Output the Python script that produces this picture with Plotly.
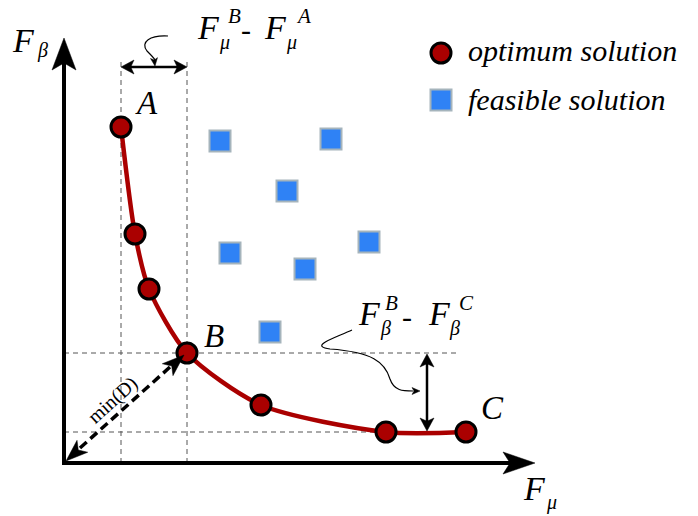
import plotly.graph_objects as go

# ---------------- data (F_mu, F_beta in chart units) ----------------
opt_fmu = [57, 71, 85, 123, 197, 322, 402]
opt_fbeta = [336, 229, 174, 110, 58, 31, 31]
feas_fmu = [156, 267, 223, 166, 305, 241, 206]
feas_fbeta = [322, 324, 272, 210, 221, 194, 131]
point_labels = ["A", "B", "C"]
legend_labels = ["optimum solution", "feasible solution"]

W, H = 698, 516
X0, Y0 = 64, 463  # pixel position of the origin


def d(px, py):
    return (px - X0, Y0 - py)


def fmt(px, py):
    x, y = d(px, py)
    return f"{x:.2f},{y:.2f}"


def poly_path(pts):
    return "M " + " L ".join(fmt(*p) for p in pts) + " Z"


def arrowhead(tip, frm, L, Wd, notch=0.25):
    tx, ty = tip
    fx, fy = frm
    dx, dy = tx - fx, ty - fy
    n = (dx * dx + dy * dy) ** 0.5
    ux, uy = dx / n, dy / n
    px_, py_ = -uy, ux
    bx, by = tx - ux * L, ty - uy * L
    nx, ny = tx - ux * L * (1 - notch), ty - uy * L * (1 - notch)
    pts = [(tx, ty), (bx + px_ * Wd, by + py_ * Wd), (nx, ny), (bx - px_ * Wd, by - py_ * Wd)]
    return dict(type="path", path=poly_path(pts), xref="x", yref="y",
                fillcolor="black", line=dict(color="black", width=0.5), layer="above")


def line_shape(p1, p2, color="black", width=2, dash="solid"):
    x1, y1 = d(*p1)
    x2, y2 = d(*p2)
    return dict(type="line", x0=x1, y0=y1, x1=x2, y1=y2, xref="x", yref="y",
                line=dict(color=color, width=width, dash=dash), layer="above")


shapes = []
GRID = dict(color="#555555", width=1, dash="5px,4px")

# dashed guide lines derived from A, B, C
A = (opt_fmu[0], opt_fbeta[0])
B = (opt_fmu[3], opt_fbeta[3])
C = (opt_fmu[-1], opt_fbeta[-1])
top_guides = 405
for gx in (A[0], B[0]):
    shapes.append(dict(type="line", x0=gx, x1=gx, y0=0, y1=top_guides, xref="x", yref="y",
                       line=GRID, layer="below"))
shapes.append(dict(type="line", x0=0, x1=393, y0=B[1], y1=B[1], xref="x", yref="y",
                   line=GRID, layer="below"))
shapes.append(dict(type="line", x0=0, x1=opt_fmu[-2], y0=C[1], y1=C[1], xref="x", yref="y",
                   line=GRID, layer="below"))

# axes
shapes.append(line_shape((64, 463), (64, 62), width=4))
shapes.append(line_shape((62, 463), (510, 463), width=4))
shapes.append(arrowhead((64, 38), (64, 463), 32, 12, 0.22))
shapes.append(arrowhead((535, 463), (64, 463), 32, 11, 0.22))

# horizontal double arrow (F_mu^B - F_mu^A)
shapes.append(line_shape((125, 67), (183, 67), width=2.5))
shapes.append(arrowhead((121, 67), (187, 67), 13, 7))
shapes.append(arrowhead((187, 67), (121, 67), 13, 7))

# vertical double arrow (F_beta^B - F_beta^C)
shapes.append(line_shape((427, 360), (427, 425), width=2.5))
shapes.append(arrowhead((427, 354), (427, 432), 13, 7))
shapes.append(arrowhead((427, 431), (427, 353), 13, 7))

# min(D) dashed double arrow
shapes.append(line_shape((80, 448), (170, 367), width=3.5, dash="9px,5px"))
shapes.append(arrowhead((66, 461), (184, 355), 22, 8))
shapes.append(arrowhead((184, 355), (66, 461), 22, 8))

# curly pointers
shapes.append(dict(type="path", xref="x", yref="y",
                   path=f"M {fmt(168,36)} C {fmt(150,35)} {fmt(140,42)} {fmt(147,51)} "
                        f"C {fmt(151,55)} {fmt(154,58)} {fmt(155,60)}",
                   line=dict(color="black", width=1.2), layer="above"))
shapes.append(arrowhead((155, 66), (154, 58), 8, 3.5))
shapes.append(dict(type="path", xref="x", yref="y",
                   path=f"M {fmt(352,330)} C {fmt(335,338)} {fmt(308,346)} {fmt(330,349)} "
                        f"C {fmt(372,352)} {fmt(385,362)} {fmt(390,379)} "
                        f"C {fmt(394,391)} {fmt(403,391)} {fmt(413,391)}",
                   line=dict(color="black", width=1.2), layer="above"))
shapes.append(arrowhead((420, 391), (410, 391), 8, 3.5))

fig = go.Figure()

# Pareto curve
fig.add_trace(go.Scatter(x=opt_fmu, y=opt_fbeta, mode="lines",
                         line=dict(color="#AA0000", width=4.5, shape="spline", smoothing=0.75),
                         hoverinfo="skip", showlegend=False))
# feasible solutions
fig.add_trace(go.Scatter(x=feas_fmu, y=feas_fbeta, mode="markers",
                         marker=dict(symbol="square", size=21, color="#2F82F5",
                                     line=dict(color="#A5B4BC", width=2)),
                         showlegend=False))
# optimum solutions
fig.add_trace(go.Scatter(x=opt_fmu, y=opt_fbeta, mode="markers",
                         marker=dict(symbol="circle", size=20, color="#AA0000",
                                     line=dict(color="black", width=3)),
                         showlegend=False))

# legend markers (manual)
lx1, ly1 = d(441, 53)
lx2, ly2 = d(441, 100)
fig.add_trace(go.Scatter(x=[lx1], y=[ly1], mode="markers",
                         marker=dict(symbol="circle", size=20, color="#AA0000",
                                     line=dict(color="black", width=3)), showlegend=False))
fig.add_trace(go.Scatter(x=[lx2], y=[ly2], mode="markers",
                         marker=dict(symbol="square", size=21, color="#2F82F5",
                                     line=dict(color="#A5B4BC", width=2)), showlegend=False))

SERIF = "Liberation Serif"
annotations = []


def txt(px, py, s, size, xanchor="center", italic=True, angle=0, family=SERIF):
    x, y = d(px, py)
    annotations.append(dict(x=x, y=y, xref="x", yref="y", text=(f"<i>{s}</i>" if italic else s),
                            showarrow=False, xanchor=xanchor, yanchor="middle", textangle=angle,
                            font=dict(family=family, size=size, color="black")))


# legend texts
txt(466, 50, legend_labels[0], 30, xanchor="left")
txt(466, 99, legend_labels[1], 30, xanchor="left")

# point labels
txt(146, 103, point_labels[0], 33)
txt(214, 336, point_labels[1], 33)
txt(492, 408, point_labels[2], 33)

# axis labels
txt(23, 40, "F", 34)
txt(42, 50, "β", 20)
txt(534, 488, "F", 34)
txt(551, 502, "μ", 20)

# F_mu^B - F_mu^A
txt(208, 27, "F", 34)
txt(224, 42, "μ", 20)
txt(234, 16, "B", 21)
txt(246, 29, "-", 30, italic=False)
txt(275, 27, "F", 34)
txt(291, 42, "μ", 20)
txt(303, 16, "A", 21)

# F_beta^B - F_beta^C
txt(369, 313, "F", 34)
txt(385, 328, "β", 20)
txt(391, 303, "B", 21)
txt(407, 316, "-", 30, italic=False)
txt(439, 313, "F", 34)
txt(454, 328, "β", 20)
txt(466, 303, "C", 21)

# min(D)
txt(112, 400, "min(D)", 20, italic=False, angle=-42)

fig.update_layout(
    width=W, height=H, autosize=False,
    margin=dict(l=0, r=0, t=0, b=0, pad=0),
    paper_bgcolor="white", plot_bgcolor="white",
    xaxis=dict(range=[-X0, W - X0], visible=False, fixedrange=True),
    yaxis=dict(range=[Y0 - H, Y0], visible=False, fixedrange=True),
    shapes=shapes, annotations=annotations, showlegend=False,
)

fig.write_html("out.html", config={"displayModeBar": False},
               post_script="document.body.style.margin='0px';")
